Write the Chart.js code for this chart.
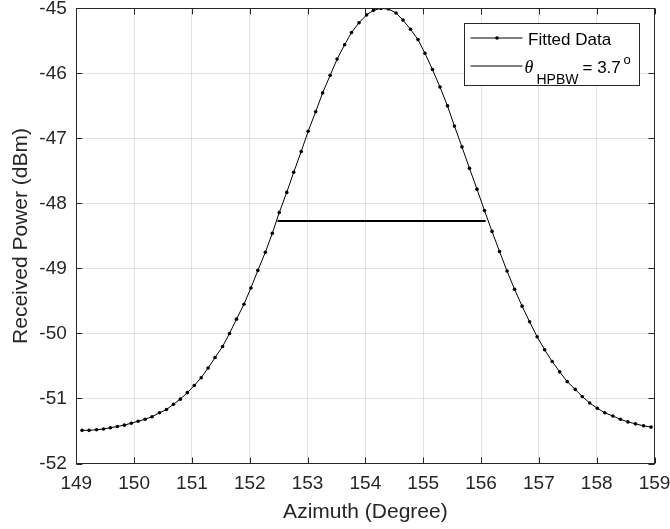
<!DOCTYPE html>
<html>
<head>
<meta charset="utf-8">
<script src="https://cdn.jsdelivr.net/npm/chart.js@4.4.1/dist/chart.umd.min.js"></script>
<style>
  html, body { margin: 0; padding: 0; background: #fff; }
  #wrap { width: 670px; height: 529px; }
</style>
</head>
<body>
<div id="wrap"><canvas id="myChart" width="670" height="529"></canvas></div>
<script>
// fitted beam pattern
const azimuth = [
  149.10,149.22,149.35,149.47,149.59,149.71,149.83,149.95,150.07,150.19,
  150.31,150.44,150.56,150.68,150.80,150.92,151.04,151.16,151.28,151.40,
  151.53,151.65,151.77,151.90,152.02,152.14,152.27,152.39,152.51,152.64,
  152.76,152.89,153.01,153.14,153.26,153.39,153.51,153.64,153.76,153.89,
  154.02,154.14,154.27,154.40,154.53,154.65,154.78,154.91,155.03,155.16,
  155.29,155.42,155.54,155.67,155.80,155.93,156.06,156.19,156.32,156.45,
  156.58,156.71,156.84,156.97,157.10,157.23,157.36,157.49,157.63,157.75,
  157.88,158.01,158.14,158.28,158.41,158.54,158.67,158.81,158.94
];
const power = [
  -51.49,-51.49,-51.48,-51.47,-51.45,-51.43,-51.41,-51.38,-51.35,-51.32,
  -51.28,-51.22,-51.17,-51.09,-51.01,-50.91,-50.80,-50.68,-50.53,-50.37,
  -50.20,-50.00,-49.78,-49.55,-49.30,-49.03,-48.75,-48.46,-48.14,-47.83,
  -47.52,-47.20,-46.89,-46.59,-46.30,-46.03,-45.78,-45.56,-45.37,-45.22,
  -45.10,-45.03,-45.00,-45.01,-45.07,-45.18,-45.32,-45.48,-45.69,-45.94,
  -46.21,-46.50,-46.81,-47.13,-47.46,-47.78,-48.11,-48.43,-48.74,-49.04,
  -49.32,-49.58,-49.82,-50.05,-50.25,-50.43,-50.59,-50.74,-50.86,-50.97,
  -51.07,-51.15,-51.22,-51.27,-51.32,-51.36,-51.39,-51.42,-51.44
];
// half power beam width marker
const hpbwAzimuth = [152.48, 156.08];
const hpbwPower = [-48.27, -48.27];

const xTicks = [149,150,151,152,153,154,155,156,157,158,159];
const yTicks = [-52,-51,-50,-49,-48,-47,-46,-45];

const axisColor = '#262626';
const fontFam = 'Arial, "Liberation Sans", Helvetica, sans-serif';

document.addEventListener('DOMContentLoaded', () => {
  const ctx = document.getElementById('myChart');

  // box around the axes, inward ticks, and the matlab-ish legend
  const matlabAxes = {
    id: 'matlabAxes',
    afterDraw(chart) {
      const c = chart.ctx;
      const a = chart.chartArea;
      const xs = chart.scales.x, ys = chart.scales.y;
      const tl = 6;
      c.save();
      c.strokeStyle = axisColor;
      c.lineWidth = 1;
      c.beginPath();
      xTicks.forEach(v => {
        const px = Math.round(xs.getPixelForValue(v)) + 0.5;
        c.moveTo(px, a.bottom); c.lineTo(px, a.bottom - tl);
        c.moveTo(px, a.top); c.lineTo(px, a.top + tl);
      });
      yTicks.forEach(v => {
        const py = Math.round(ys.getPixelForValue(v)) + 0.5;
        c.moveTo(a.left, py); c.lineTo(a.left + tl, py);
        c.moveTo(a.right, py); c.lineTo(a.right - tl, py);
      });
      c.stroke();
      c.strokeRect(Math.round(a.left) + 0.5, Math.round(a.top) + 0.5,
        Math.round(a.right - a.left), Math.round(a.bottom - a.top));

      // legend
      const lx = Math.round(a.right - 191) + 0.5;
      const ly = Math.round(a.top + 15) + 0.5;
      const lw = 175, lh = 62;
      c.fillStyle = '#fff';
      c.fillRect(lx, ly, lw, lh);
      c.strokeRect(lx, ly, lw, lh);

      const r1 = ly + 14.5, r2 = ly + 42.5;
      c.strokeStyle = '#000';
      c.beginPath();
      c.moveTo(lx + 6, r1); c.lineTo(lx + 58, r1);
      c.moveTo(lx + 6, r2); c.lineTo(lx + 58, r2);
      c.stroke();
      c.fillStyle = '#000';
      c.beginPath();
      c.arc(lx + 32.5, r1, 1.8, 0, Math.PI * 2);
      c.fill();

      c.fillStyle = '#000';
      c.textBaseline = 'alphabetic';
      c.textAlign = 'left';
      c.font = '17px ' + fontFam;
      c.fillText('Fitted Data', lx + 63.5, ly + 21);
      c.font = 'italic 18px "Liberation Serif", "Times New Roman", serif';
      c.fillText('\u03b8', lx + 60, ly + 49);
      c.font = '14px ' + fontFam;
      c.fillText('HPBW', lx + 72, ly + 60);
      c.font = '17px ' + fontFam;
      c.fillText('= 3.7', lx + 118, ly + 49);
      c.font = '13px ' + fontFam;
      c.fillText('o', lx + 159, ly + 40);
      c.restore();
    }
  };

  new Chart(ctx, {
    type: 'scatter',
    data: {
      datasets: [{
        label: 'Fitted Data',
        data: azimuth.map((x, i) => ({ x: x, y: power[i] })),
        showLine: true,
        borderColor: '#000',
        borderWidth: 1,
        backgroundColor: '#000',
        pointRadius: 1.8,
        pointBorderWidth: 0,
        pointBackgroundColor: '#000',
        tension: 0
      }, {
        label: 'HPBW',
        data: hpbwAzimuth.map((x, i) => ({ x: x, y: hpbwPower[i] })),
        showLine: true,
        borderColor: '#000',
        borderWidth: 2,
        pointRadius: 0
      }]
    },
    options: {
      responsive: false,
      animation: false,
      devicePixelRatio: 1,
      layout: { padding: { top: 8.4, right: 15.5, left: 0, bottom: 0 } },
      plugins: { legend: { display: false }, tooltip: { enabled: false } },
      scales: {
        x: {
          type: 'linear',
          min: 149, max: 159,
          afterBuildTicks: s => { s.ticks = xTicks.map(v => ({ value: v })); },
          afterFit: s => { s.height = 65.5; s.paddingLeft = 0; s.paddingRight = 0; },
          grid: { color: 'rgba(38,38,38,0.13)', drawTicks: false },
          border: { display: false },
          ticks: { color: axisColor, padding: 9, font: { size: 19, family: fontFam }, callback: v => String(v) },
          title: { display: true, text: 'Azimuth (Degree)', color: axisColor,
                   font: { size: 21, family: fontFam }, padding: { top: 0, bottom: 4 } }
        },
        y: {
          type: 'linear',
          min: -52, max: -45,
          afterBuildTicks: s => { s.ticks = yTicks.map(v => ({ value: v })); },
          afterFit: s => { s.width = 76.3; s.paddingTop = 0; s.paddingBottom = 0; },
          grid: { color: 'rgba(38,38,38,0.13)', drawTicks: false },
          border: { display: false },
          ticks: { color: axisColor, padding: 9.5, font: { size: 19, family: fontFam }, callback: v => String(v) },
          title: { display: true, text: 'Received Power (dBm)', color: axisColor,
                   font: { size: 21, family: fontFam }, padding: { top: 9, bottom: 0 } }
        }
      }
    },
    plugins: [matlabAxes]
  });
});
</script>
</body>
</html>
